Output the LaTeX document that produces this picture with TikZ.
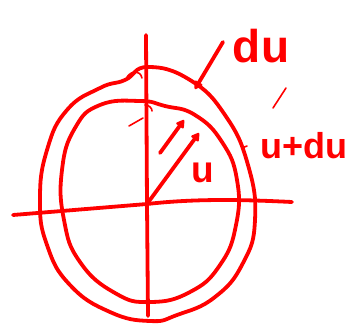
\documentclass[tikz,border=0pt]{standalone}
\usepackage{fontspec}
\setmainfont{Liberation Sans}
\usetikzlibrary{arrows.meta}
\tikzset{
  pen/.style={draw=red, line width=3.8pt, line cap=round, line join=round},
  thin pen/.style={draw=red, line width=1.6pt, line cap=round},
  tip/.style={-{Triangle[length=9pt, width=10pt, round]}},
  scrawl/.style={text=red, inner sep=0pt}
}
\begin{document}
\begin{tikzpicture}[x=1pt, y=-1pt]
  \useasboundingbox (0,0) rectangle (353,324);
  % axes
  \coordinate (o) at (147,204);
  \draw[pen] (146,35) -- (147,204) -- (148,316);
  \draw[pen] (13,215) -- (o) .. controls (200,198) and (250,200) .. (292,202);
  % inner circle u
  \draw[pen] plot[smooth cycle, tension=0.8] coordinates {
    (140,101) (100,105) (75,128) (62,170) (64,220) (80,262) (115,293)
    (150,302) (190,292) (220,265) (236,225) (237,180) (222,142) (195,115)
    (165,106)};
  % outer circle u+du
  \draw[pen] plot[smooth cycle, tension=0.8] coordinates {
    (148,67) (190,80) (225,115) (248,165) (255,220) (243,263) (215,297)
    (177,315) (150,321) (110,312) (70,285) (47,245) (40,200) (47,150)
    (67,110) (100,88) (125,80)};
  % small strokes
  \draw[thin pen] (127,77) .. controls (132,70) and (140,70) .. (142,78);
  \draw[thin pen] (145,105) .. controls (149,105) and (152,108) .. (152,111);
  \draw[thin pen] (129,126) -- (143,118);
  \draw[thin pen] (273,108) -- (286,88);
  \draw[thin pen] (242,148) -- (247,146);
  % vectors
  \coordinate (utip) at (199,133);
  \coordinate (dstart) at (160,153);
  \coordinate (dtip) at (184,120);
  \coordinate (pstart) at (223,42);
  \coordinate (ptip) at (195,89);
  \draw[pen, tip] (o) -- (utip);
  \draw[pen, tip] (dstart) -- (dtip);
  \draw[pen, tip] (pstart) -- (ptip);
  % labels
  \node[scrawl, font=\bfseries\fontsize{46}{46}\selectfont] (du) at (261,46) {du};
  \node[scrawl, font=\bfseries\fontsize{36}{36}\selectfont] (udu) at (304,146) {u+du};
  \node[scrawl, font=\bfseries\fontsize{37}{37}\selectfont] (u) at (203,173) {u};
\end{tikzpicture}
\end{document}
